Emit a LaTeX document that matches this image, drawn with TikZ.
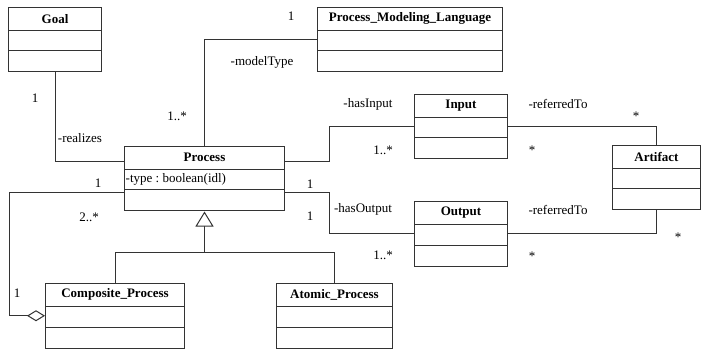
\documentclass[tikz,border=0pt]{standalone}
\usepackage{fontspec}
\setmainfont{Liberation Serif}
\usetikzlibrary{arrows.meta}

\tikzset{
  classbox/.style={draw=black!80, line width=1pt, fill=white, inner sep=0pt,
    minimum height=64.5pt, anchor=north west},
  classline/.style={draw=black!80, line width=1pt},
  classname/.style={font=\fontsize{13}{15}\selectfont\bfseries, inner sep=0pt},
  attr/.style={font=\fontsize{13}{15}\selectfont\frenchspacing, inner sep=0pt, anchor=west},
  lbl/.style={font=\fontsize{13}{15}\selectfont, inner sep=0pt},
  assoc/.style={draw=black!80, line width=1pt},
  generalization/.style={assoc, -{Triangle[open, length=15pt, width=18pt, fill=white]}},
  aggregation/.style={assoc, {Diamond[open, length=18pt, width=11pt, fill=white]}-}
}

% class box: name, left, top, width, title
\newcommand{\umlclass}[5]{%
  \node[classbox, minimum width=#4pt] (#1) at (#2,#3) {};
  \node[classname] (#1-name) at ([yshift=-11.75pt]#1.north) {#5};
  \draw[classline] ([yshift=-23.5pt]#1.north west) -- ([yshift=-23.5pt]#1.north east);
  \draw[classline] ([yshift=-44pt]#1.north west) -- ([yshift=-44pt]#1.north east);
}

\begin{document}
\begin{tikzpicture}[x=1pt, y=-1pt]
  \useasboundingbox (0,0) rectangle (702,350);

  % classes
  \umlclass{goal}{8}{7}{93}{Goal}
  \umlclass{pml}{317}{7}{185}{Process\_Modeling\_Language}
  \umlclass{process}{124}{146}{160}{Process}
  \umlclass{input}{414}{94}{93}{Input}
  \umlclass{output}{414}{201}{93}{Output}
  \umlclass{artifact}{612}{145}{88}{Artifact}
  \umlclass{composite}{45}{283}{139}{Composite\_Process}
  \umlclass{atomic}{276}{283}{116}{Atomic\_Process}
  \node[attr] (process-type) at ([xshift=1.5pt,yshift=-33pt]process.north west) {-type : boolean(idl)};

  % associations
  \draw[assoc] (goal.south) |- ([yshift=-16pt]process.north west);
  \node[lbl] (goal-m) at (35,98) {1};
  \node[lbl] (realizes) at (80,138) {-realizes};

  \draw[assoc] (process.north) |- (pml.west);
  \node[lbl] (pml-m) at (291,16) {1};
  \node[lbl] (modeltype) at (262,62) {-modelType};
  \node[lbl] (process-m) at (177,116) {1..*};

  \draw[assoc] ([yshift=-16pt]process.north east) -- ++(44,0) |- (input.west);
  \node[lbl] (hasinput) at (368,104) {-hasInput};
  \node[lbl] (input-m) at (383,150) {1..*};

  \draw[assoc] ([yshift=-47pt]process.north east) -- ++(44,0) |- (output.west);
  \node[lbl] (proc-m1) at (310,184) {1};
  \node[lbl] (proc-m2) at (310,216) {1};
  \node[lbl] (hasoutput) at (363,209) {-hasOutput};
  \node[lbl] (output-m) at (383,255) {1..*};

  \draw[assoc] (input.east) -| (artifact.north);
  \node[lbl] (ref-in) at (558,104) {-referredTo};
  \node[lbl] (ref-in-m1) at (532,150) {*};
  \node[lbl] (ref-in-m2) at (636,116) {*};

  \draw[assoc] (output.east) -| (artifact.south);
  \node[lbl] (ref-out) at (558,210) {-referredTo};
  \node[lbl] (ref-out-m1) at (532,256) {*};
  \node[lbl] (ref-out-m2) at (678,237) {*};

  % inheritance
  \coordinate (genjoin) at ([yshift=-41pt]process.south);
  \draw[assoc] (composite.north) |- (genjoin) -| (atomic.north);
  \draw[generalization] (genjoin) -- (process.south);

  % aggregation
  \draw[aggregation] (composite.west) -- ++(-36,0) |- ([yshift=-47pt]process.north west);
  \node[lbl] (agg-m1) at (98,183) {1};
  \node[lbl] (agg-m2) at (89,217) {2..*};
  \node[lbl] (agg-m3) at (17,293) {1};
\end{tikzpicture}
\end{document}
